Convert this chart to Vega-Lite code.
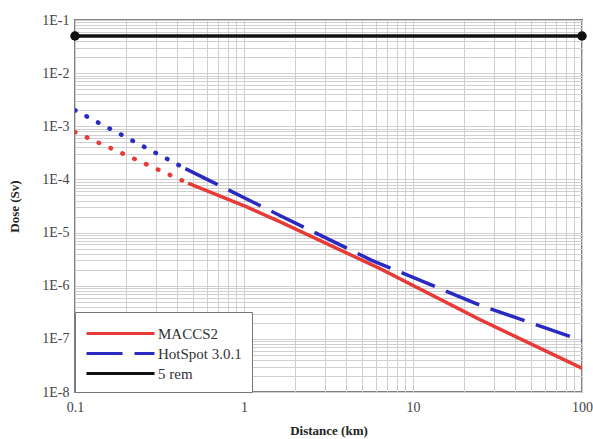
{
  "$schema": "https://vega.github.io/schema/vega-lite/v6.json",
  "width": 507,
  "height": 372,
  "autosize": "none",
  "padding": {"left": 75, "top": 20, "right": 11, "bottom": 47},
  "background": "white",
  "config": {
    "font": "Liberation Serif",
    "style": {"guide-label": {"font": "Liberation Serif"}},
    "view": {"stroke": "#808080", "strokeWidth": 2},
    "axis": {
      "labelFont": "Liberation Serif",
      "labelFontSize": 14,
      "labelColor": "#444",
      "titleFont": "Liberation Serif",
      "titleFontSize": 13,
      "titleFontWeight": "bold",
      "titleColor": "#222",
      "gridColor": "#cfcfcf",
      "gridWidth": 1,
      "domain": false,
      "ticks": false
    },
    "legend": {
      "labelFont": "Liberation Serif"
    }
  },
  "data": {
    "values": [
      {"model": "MACCS2", "part": "extrapolated", "distance": 0.1, "dose": 7.8e-4},
      {"model": "MACCS2", "part": "extrapolated", "distance": 0.467, "dose": 8.5e-5},
      {"model": "MACCS2", "part": "calculated", "distance": 0.467, "dose": 8.5e-5},
      {"model": "MACCS2", "part": "calculated", "distance": 1.0, "dose": 3.2e-5},
      {"model": "MACCS2", "part": "calculated", "distance": 1.63, "dose": 1.6e-5},
      {"model": "MACCS2", "part": "calculated", "distance": 6.38, "dose": 2.1e-6},
      {"model": "MACCS2", "part": "calculated", "distance": 24.9, "dose": 2.3e-7},
      {"model": "MACCS2", "part": "calculated", "distance": 100, "dose": 2.8e-8},
      {"model": "HotSpot 3.0.1", "part": "extrapolated", "distance": 0.1, "dose": 2.0e-3},
      {"model": "HotSpot 3.0.1", "part": "extrapolated", "distance": 0.45, "dose": 1.6e-4},
      {"model": "HotSpot 3.0.1", "part": "calculated", "distance": 0.45, "dose": 1.6e-4},
      {"model": "HotSpot 3.0.1", "part": "calculated", "distance": 1.63, "dose": 2.1e-5},
      {"model": "HotSpot 3.0.1", "part": "calculated", "distance": 5.7, "dose": 3.0e-6},
      {"model": "HotSpot 3.0.1", "part": "calculated", "distance": 24.9, "dose": 4.3e-7},
      {"model": "HotSpot 3.0.1", "part": "calculated", "distance": 100, "dose": 9.3e-8},
      {"model": "5 rem", "part": "calculated", "distance": 0.1, "dose": 0.05},
      {"model": "5 rem", "part": "calculated", "distance": 100, "dose": 0.05}
    ]
  },
  "encoding": {
    "x": {
      "field": "distance", "type": "quantitative",
      "scale": {"type": "log", "domain": [0.1, 100], "nice": false},
      "axis": {
        "title": "Distance (km)",
        "values": [0.1,0.2,0.3,0.4,0.5,0.6,0.7,0.8,0.9,1,2,3,4,5,6,7,8,9,10,20,30,40,50,60,70,80,90,100],
        "labelExpr": "abs(log(datum.value)/LN10 - round(log(datum.value)/LN10)) < 0.001 ? format(datum.value, '~g') : ''",
        "labelPadding": 8,
        "titlePadding": 10,
        "labelFlush": false,
        "labelOverlap": false
      }
    },
    "y": {
      "field": "dose", "type": "quantitative",
      "scale": {"type": "log", "domain": [1e-8, 0.1], "nice": false},
      "axis": {
        "title": "Dose (Sv)",
        "values": [1e-8,2e-8,3e-8,4e-8,5e-8,6e-8,7e-8,8e-8,9e-8,1e-7,2e-7,3e-7,4e-7,5e-7,6e-7,7e-7,8e-7,9e-7,1e-6,2e-6,3e-6,4e-6,5e-6,6e-6,7e-6,8e-6,9e-6,1e-5,2e-5,3e-5,4e-5,5e-5,6e-5,7e-5,8e-5,9e-5,1e-4,2e-4,3e-4,4e-4,5e-4,6e-4,7e-4,8e-4,9e-4,1e-3,2e-3,3e-3,4e-3,5e-3,6e-3,7e-3,8e-3,9e-3,1e-2,2e-2,3e-2,4e-2,5e-2,6e-2,7e-2,8e-2,9e-2,1e-1],
        "labelExpr": "abs(log(datum.value)/LN10 - round(log(datum.value)/LN10)) < 0.001 ? '1E' + round(log(datum.value)/LN10) : ''",
        "labelPadding": 6,
        "titlePadding": 20,
        "labelOverlap": false
      }
    },
    "color": {"field": "model", "type": "nominal", "title": null,
      "scale": {"domain": ["MACCS2", "HotSpot 3.0.1", "5 rem"], "range": ["#e83a36", "#2a2ac0", "#111111"]},
      "legend": {
        "orient": "bottom-left",
        "offset": 0,
        "fillColor": "white",
        "strokeColor": "#777",
        "padding": 10,
        "labelFont": "Liberation Serif",
        "labelFontSize": 15,
        "labelColor": "#333",
        "labelOffset": 26,
        "symbolOffset": 24,
        "symbolType": "M-3.4,0H3.4",
        "symbolStrokeWidth": 3,
        "symbolSize": 400,
        "rowPadding": 0
      }
    }
  },
  "layer": [
    {
      "transform": [{"filter": "datum.part === 'calculated'"}],
      "mark": {"type": "line", "strokeWidth": 3.5, "clip": true},
      "encoding": {
        "strokeDash": {"field": "model", "type": "nominal", "title": null,
          "scale": {"domain": ["MACCS2", "HotSpot 3.0.1", "5 rem"], "range": [[1, 0], [36, 12], [1, 0]]}}
      }
    },
    {
      "transform": [{"filter": "datum.part === 'extrapolated'"}],
      "mark": {"type": "line", "strokeWidth": 4.5, "strokeDash": [0.5, 12.5], "strokeCap": "round", "clip": true},
      "encoding": {
        "detail": {"field": "model"}
      }
    },
    {
      "transform": [{"filter": "datum.model === '5 rem'"}],
      "mark": {"type": "point", "filled": true, "shape": "circle", "size": 90, "opacity": 1, "clip": false}
    }
  ]
}
